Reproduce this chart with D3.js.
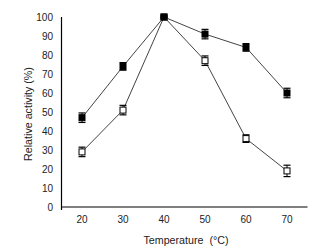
<!DOCTYPE html>
<html>
<head>
<meta charset="utf-8">
<script src="https://cdn.jsdelivr.net/npm/d3@7"></script>
<style>
  body { margin: 0; background: #fff; }
  svg { display: block; font-family: "Liberation Sans", Arial, sans-serif; }
</style>
</head>
<body>
<svg id="chart" width="312" height="250"></svg>
<script>
var temps = [20, 30, 40, 50, 60, 70];
var filledVals = [47, 74, 100, 91, 84, 60];
var filledErr = [2.5, 2, 0.5, 2.5, 2, 2.5];
var openVals = [29, 51, 100, 77, 36, 19];
var openErr = [2.5, 2.5, 0.5, 2.5, 2, 3];
var yTicks = [0, 10, 20, 30, 40, 50, 60, 70, 80, 90, 100];

var svg = d3.select("#chart");
var x = d3.scaleLinear().domain([15, 75]).range([61.5, 307.5]);
var y = d3.scaleLinear().domain([0, 100]).range([207, 17]);

// axes lines
svg.append("line").attr("x1", x(15)).attr("x2", x(15)).attr("y1", y(100)).attr("y2", 210)
  .attr("stroke", "#000").attr("stroke-width", 1.2);
svg.append("line").attr("x1", x(15)).attr("x2", x(75)).attr("y1", y(0)).attr("y2", y(0))
  .attr("stroke", "#000").attr("stroke-width", 1.2);

// tick labels
svg.selectAll(".ylab").data(yTicks).enter().append("text")
  .attr("x", 53).attr("y", function(d){ return y(d); }).attr("dy", "0.35em")
  .attr("text-anchor", "end").attr("font-size", 10).attr("fill", "#222")
  .text(function(d){ return d; });
svg.selectAll(".xlab").data(temps).enter().append("text")
  .attr("x", function(d){ return x(d); }).attr("y", 219).attr("dy", "0.35em")
  .attr("text-anchor", "middle").attr("font-size", 10).attr("fill", "#222")
  .text(function(d){ return d; });

svg.append("text").attr("x", 186).attr("y", 240).attr("dy", "0.35em")
  .attr("text-anchor", "middle").attr("font-size", 10.7).attr("fill", "#222")
  .text("Temperature\u00a0\u00a0(°C)");
svg.append("text").attr("transform", "translate(28,114) rotate(-90)").attr("dy", "0.35em")
  .attr("text-anchor", "middle").attr("font-size", 10.7).attr("fill", "#222")
  .text("Relative activity (%)");

var line = d3.line().x(function(d){ return x(d[0]); }).y(function(d){ return y(d[1]); });

function drawSeries(vals, errs, filled) {
  var pts = temps.map(function(t, i){ return [t, vals[i], errs[i]]; });
  svg.append("path").datum(pts).attr("d", line)
    .attr("fill", "none").attr("stroke", "#444").attr("stroke-width", 1);
  var g = svg.append("g");
  pts.forEach(function(p) {
    var cx = x(p[0]), lo = y(p[1] - p[2]), hi = y(p[1] + p[2]);
    g.append("line").attr("x1", cx).attr("x2", cx).attr("y1", lo).attr("y2", hi)
      .attr("stroke", "#000").attr("stroke-width", 1);
    [lo, hi].forEach(function(yy) {
      g.append("line").attr("x1", cx - 3.5).attr("x2", cx + 3.5).attr("y1", yy).attr("y2", yy)
        .attr("stroke", "#000").attr("stroke-width", 1.2);
    });
    g.append("rect").attr("x", cx - 3).attr("y", y(p[1]) - 3).attr("width", 6).attr("height", 6)
      .attr("fill", filled ? "#000" : "#fff").attr("stroke", "#000").attr("stroke-width", 1);
  });
}

drawSeries(openVals, openErr, false);
drawSeries(filledVals, filledErr, true);
</script>
</body>
</html>
